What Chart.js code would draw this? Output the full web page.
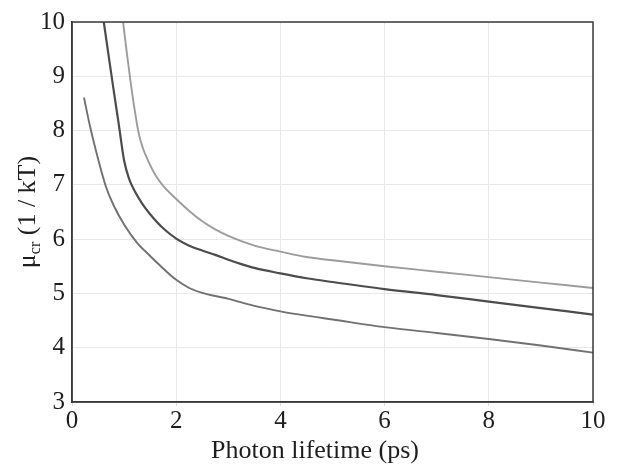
<!DOCTYPE html>
<html>
<head>
<meta charset="utf-8">
<script src="https://cdn.jsdelivr.net/npm/chart.js@4.4.1/dist/chart.umd.min.js"></script>
<style>
  html, body { margin: 0; padding: 0; background: #ffffff; }
  #wrap { width: 621px; height: 468px; position: relative; }
</style>
</head>
<body>
<div id="wrap"><canvas id="c" width="621" height="468"></canvas></div>
<script>
// Data
const xTickLabels = ['0', '2', '4', '6', '8', '10'];
const yTickLabels = ['3', '4', '5', '6', '7', '8', '9', '10'];
const xTitleText = 'Photon lifetime (ps)';

const lowerX = [0.23, 0.35, 0.5, 0.65, 0.8, 1.0, 1.25, 1.5, 1.75, 2.0, 2.25, 2.5, 3.0, 3.5, 4.0, 4.5, 5.0, 6.0, 7.0, 8.0, 9.0, 10.0];
const lowerY = [8.61, 8.06, 7.48, 6.97, 6.62, 6.27, 5.93, 5.69, 5.46, 5.25, 5.10, 5.01, 4.90, 4.77, 4.67, 4.59, 4.52, 4.38, 4.27, 4.16, 4.04, 3.91];

const middleX = [0.61, 0.7, 0.8, 0.9, 1.0, 1.1, 1.2, 1.35, 1.5, 1.75, 2.0, 2.25, 2.5, 2.75, 3.0, 3.25, 3.5, 4.0, 4.5, 5.0, 6.0, 7.0, 8.0, 9.0, 10.0];
const middleY = [10.0, 9.4, 8.74, 8.1, 7.45, 7.1, 6.89, 6.65, 6.46, 6.2, 6.01, 5.88, 5.79, 5.71, 5.62, 5.54, 5.47, 5.37, 5.28, 5.21, 5.08, 4.97, 4.85, 4.73, 4.61];

const upperX = [0.98, 1.05, 1.12, 1.2, 1.28, 1.36, 1.45, 1.6, 1.75, 2.0, 2.25, 2.5, 2.75, 3.0, 3.5, 4.0, 4.5, 5.0, 6.0, 7.0, 8.0, 9.0, 10.0];
const upperY = [10.0, 9.45, 8.93, 8.4, 7.95, 7.68, 7.47, 7.18, 6.98, 6.74, 6.52, 6.33, 6.18, 6.06, 5.88, 5.77, 5.67, 5.61, 5.50, 5.40, 5.30, 5.20, 5.10];

const seriesColors = ['#717171', '#4c4c4c', '#9c9c9c'];

function pts(xs, ys) { return xs.map((x, i) => ({ x: x, y: ys[i] })); }

const SERIF = '"Liberation Serif", "Times New Roman", "DejaVu Serif", serif';
const TEXT = '#1e1e1e';

const frame = {
  id: 'frame',
  afterDatasetsDraw(chart) {
    const a = chart.chartArea, ctx = chart.ctx;
    ctx.save();
    ctx.strokeStyle = '#3a3a3a';
    ctx.lineWidth = 1.5;
    ctx.strokeRect(a.left, a.top, a.right - a.left, a.bottom - a.top);
    ctx.restore();
  }
};

const titles = {
  id: 'titles',
  afterDraw(chart) {
    const ctx = chart.ctx;
    // x-axis title
    ctx.save();
    ctx.font = '26px ' + SERIF;
    ctx.fillStyle = TEXT;
    ctx.textAlign = 'center';
    ctx.textBaseline = 'alphabetic';
    ctx.fillText(xTitleText, 315, 458);
    ctx.restore();

    // y-axis title with subscript
    const main = '26px ' + SERIF;
    const sub = '16px ' + SERIF;
    const parts = [
      { t: '\u03bc', f: main, dy: 0 },
      { t: 'cr', f: sub, dy: 5 },
      { t: ' (1 / kT)', f: main, dy: 0 }
    ];
    ctx.save();
    let total = 0;
    parts.forEach(p => { ctx.font = p.f; p.w = ctx.measureText(p.t).width; total += p.w; });
    ctx.translate(35, 212);
    ctx.rotate(-Math.PI / 2);
    ctx.fillStyle = TEXT;
    ctx.textBaseline = 'alphabetic';
    ctx.textAlign = 'left';
    let x = -total / 2;
    parts.forEach(p => { ctx.font = p.f; ctx.fillText(p.t, x, p.dy); x += p.w; });
    ctx.restore();
  }
};

new Chart(document.getElementById('c'), {
  type: 'line',
  data: {
    datasets: [
      { data: pts(lowerX, lowerY), borderColor: seriesColors[0], borderWidth: 1.9 },
      { data: pts(middleX, middleY), borderColor: seriesColors[1], borderWidth: 2.2 },
      { data: pts(upperX, upperY), borderColor: seriesColors[2], borderWidth: 1.9 }
    ].map(d => Object.assign(d, { pointRadius: 0, fill: false, cubicInterpolationMode: 'monotone' }))
  },
  options: {
    responsive: false,
    animation: false,
    devicePixelRatio: 1,
    layout: { padding: { top: 15, right: 28, left: 0, bottom: 0 } },
    plugins: { legend: { display: false }, tooltip: { enabled: false } },
    scales: {
      x: {
        type: 'linear', min: 0, max: 10,
        afterFit(s) { s.height = 66; },
        grid: { color: '#e8e8e8', lineWidth: 1, drawTicks: true, tickLength: 4, tickColor: '#dddddd' },
        border: { display: true, color: '#3a3a3a', width: 1.5 },
        ticks: {
          stepSize: 2, padding: 0, color: TEXT,
          font: { family: SERIF, size: 25 },
          callback: (v) => xTickLabels[Math.round(v / 2)]
        }
      },
      y: {
        type: 'linear', min: 3, max: 10,
        afterFit(s) { s.width = 72; },
        grid: { color: '#e8e8e8', lineWidth: 1, drawTicks: false },
        border: { display: true, color: '#3a3a3a', width: 1.5 },
        ticks: {
          stepSize: 1, padding: 7, color: TEXT,
          font: { family: SERIF, size: 25 },
          callback: (v) => yTickLabels[Math.round(v - 3)]
        }
      }
    }
  },
  plugins: [frame, titles]
});
</script>
</body>
</html>
